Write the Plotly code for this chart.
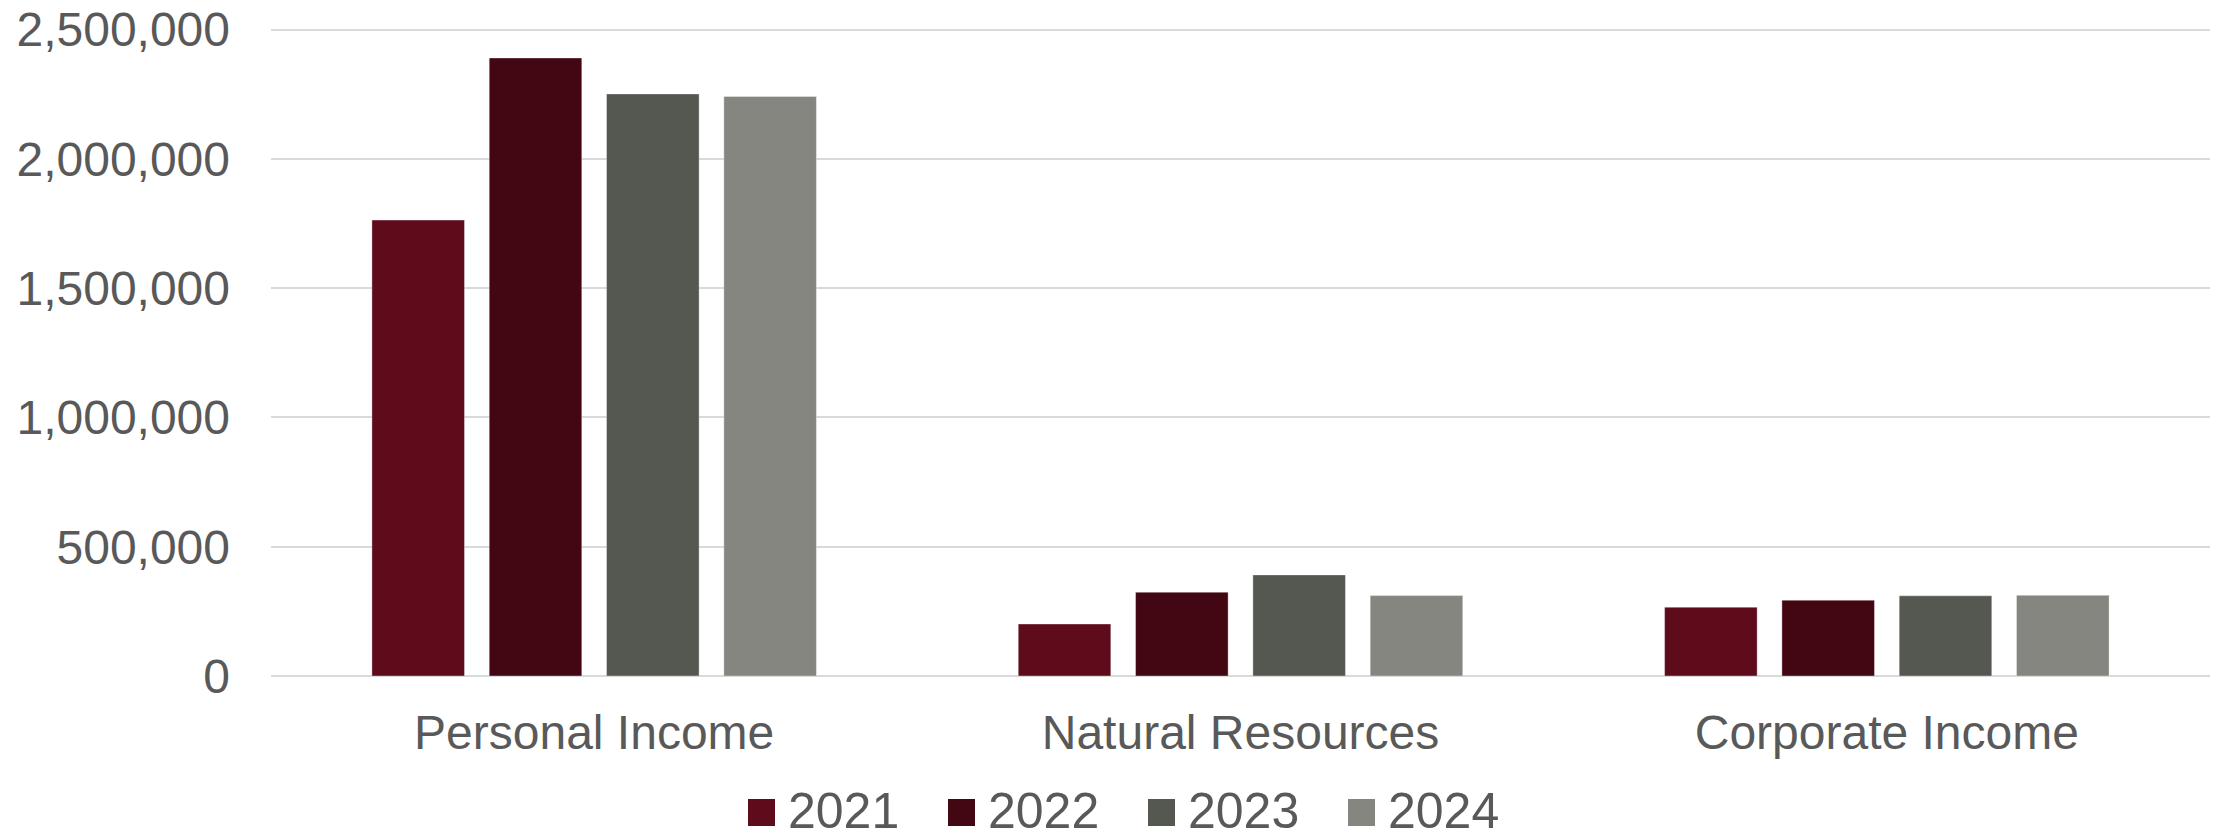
import plotly.graph_objects as go

categories = ["Personal Income", "Natural Resources", "Corporate Income"]
years = ["2021", "2022", "2023", "2024"]
values_2021 = [1763000, 201000, 266000]
values_2022 = [2390000, 324000, 293000]
values_2023 = [2251000, 391000, 310000]
values_2024 = [2241000, 311000, 312000]
series = [values_2021, values_2022, values_2023, values_2024]
colors = ["#5E0B1C", "#430613", "#555751", "#84867F"]
y_ticks = [0, 500000, 1000000, 1500000, 2000000, 2500000]
y_max = 2506000  # a hair above the top tick so its gridline is drawn

# the page body has an 8px margin, so the figure is sized/positioned to compensate
OFF = 8
PAGE_W, PAGE_H = 2219, 833
W, H = PAGE_W - OFF, PAGE_H - OFF
PLOT_L, PLOT_R, PLOT_T, PLOT_B = 271, 2210, 28, 676  # page pixels
ML, MR = PLOT_L - OFF, W - (PLOT_R - OFF)
MT, MB = PLOT_T - OFF, H - (PLOT_B - OFF)
PW, PH = W - ML - MR, H - MT - MB
FONT = "Arial, Liberation Sans, sans-serif"
TXT = "#595959"


def px_x(x):
    return (x - OFF - ML) / PW


def px_y(y):
    return (H - MB - (y - OFF)) / PH


fig = go.Figure()
for yr, vals, col in zip(years, series, colors):
    fig.add_trace(go.Bar(
        name=yr, x=categories, y=vals,
        marker=dict(color=col, line=dict(color="rgba(255,255,255,0.35)", width=1)),
        showlegend=False,
    ))

# custom legend (large square swatches as in the reference)
shapes = []
annotations = []
leg_x0 = 748
leg_step = 200
sq = 27
for i, (yr, col) in enumerate(zip(years, colors)):
    x0 = leg_x0 + i * leg_step
    shapes.append(dict(type="rect", xref="paper", yref="paper",
                       x0=px_x(x0), x1=px_x(x0 + sq), y0=px_y(826), y1=px_y(799),
                       fillcolor=col, line=dict(width=0)))
    annotations.append(dict(xref="paper", yref="paper", x=px_x(x0 + 38), y=px_y(811),
                            xanchor="left", yanchor="middle", showarrow=False,
                            height=46, valign="middle",
                            text=yr, font=dict(family=FONT, size=50, color=TXT)))

fig.update_layout(
    template="none",
    width=W, height=H,
    margin=dict(l=ML, r=MR, t=MT, b=MB, pad=0, autoexpand=False),
    paper_bgcolor="white", plot_bgcolor="white",
    barmode="group", bargap=0.274, bargroupgap=0.211,
    showlegend=False,
    font=dict(family=FONT, size=48, color=TXT),
    shapes=shapes, annotations=annotations,
    xaxis=dict(showgrid=False, showline=False, zeroline=False, ticks="",
               automargin=False,
               tickfont=dict(size=48, color=TXT), ticklabelstandoff=24),
    yaxis=dict(range=[0, y_max], tickvals=y_ticks, tickformat=",",
               automargin=False, ticklabeloverflow="allow",
               showgrid=True, gridcolor="#D9D9D9", gridwidth=1.5,
               zeroline=True, zerolinecolor="#D9D9D9", zerolinewidth=1.5,
               showline=False, ticks="", tickfont=dict(size=48, color=TXT),
               ticklabelstandoff=40),
)

fig.write_html("out.html")
